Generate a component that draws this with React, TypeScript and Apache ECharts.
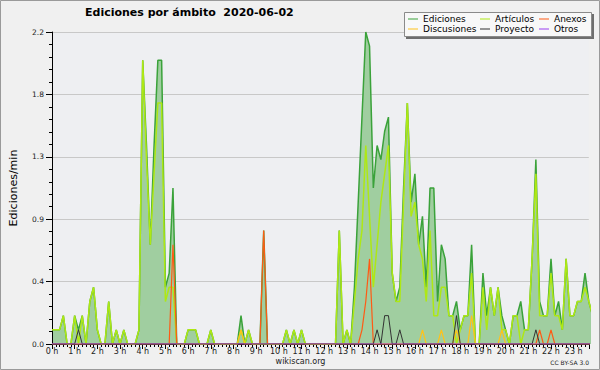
import React, { useEffect, useRef } from 'react';
import * as echarts from 'echarts';

// 10-minute slots over the day (values are edits per minute)
const SLOT_MINUTES = 10;

const hourLabels = [
  '0 h', '1 h', '2 h', '3 h', '4 h', '5 h', '6 h', '7 h', '8 h', '9 h', '10 h', '11 h',
  '12 h', '13 h', '14 h', '15 h', '16 h', '17 h', '18 h', '19 h', '20 h', '21 h', '22 h', '23 h',
];
const yTickLabels = ['0.0', '0.4', '0.9', '1.3', '1.8', '2.2'];

const ediciones = [
  0.1, 0.1, 0.1, 0.2, 0, 0, 0.2, 0.1, 0.2, 0, 0.3, 0.4,
  0.1, 0, 0, 0.3, 0, 0.1, 0, 0.1, 0, 0, 0, 0.1,
  2.0, 1.4, 0.7, 1.4, 2.0, 2.0, 0.4, 0.5, 1.1, 0, 0, 0,
  0.1, 0.1, 0.1, 0, 0, 0, 0.1, 0, 0, 0, 0, 0,
  0, 0, 0.2, 0, 0.1, 0, 0, 0, 0.8, 0, 0, 0,
  0, 0, 0.1, 0, 0.1, 0, 0.1, 0, 0, 0, 0, 0,
  0, 0, 0, 0, 0.8, 0, 0.1, 0, 0.4, 1.0, 1.6, 2.2,
  2.1, 1.1, 1.4, 1.3, 1.5, 1.6, 0.5, 0.3, 0.4, 1.1, 1.7, 1.0,
  1.2, 0.7, 0.9, 0.4, 1.1, 1.1, 0.3, 0.7, 0.6, 0.2, 0.2, 0.3,
  0.1, 0.2, 0.2, 0.7, 0, 0, 0.5, 0.2, 0.4, 0.2, 0.4, 0.2,
  0.1, 0, 0.2, 0.2, 0.3, 0.1, 0.1, 0.6, 1.3, 0.3, 0.2, 0.2,
  0.6, 0.2, 0.3, 0.1, 0.6, 0.2, 0.2, 0.3, 0.3, 0.5, 0.3, 0.2,
];

const articulos = [
  0.1, 0.1, 0.1, 0.2, 0, 0, 0.2, 0, 0.2, 0, 0.3, 0.4,
  0.1, 0, 0, 0.3, 0, 0.1, 0, 0.1, 0, 0, 0, 0.1,
  2.0, 1.3, 0.7, 1.2, 1.7, 1.7, 0.3, 0.4, 0.4, 0, 0, 0,
  0.1, 0.1, 0.1, 0, 0, 0, 0.1, 0, 0, 0, 0, 0,
  0, 0, 0.1, 0, 0.1, 0, 0, 0, 0, 0, 0, 0,
  0, 0, 0.1, 0, 0.1, 0, 0.1, 0, 0, 0, 0, 0,
  0, 0, 0, 0, 0.8, 0, 0.1, 0, 0.3, 0.6, 0.8, 1.4,
  0.9, 0.4, 0.7, 1.0, 1.2, 1.4, 0.5, 0.3, 0.3, 1.0, 1.7, 0.9,
  1.0, 0.7, 0.6, 0.3, 0.8, 0.2, 0.2, 0.4, 0.4, 0.2, 0.2, 0,
  0.1, 0.2, 0.2, 0.5, 0, 0, 0.4, 0.1, 0.4, 0.2, 0.4, 0.1,
  0.1, 0, 0.2, 0.2, 0, 0.1, 0.1, 0.6, 1.2, 0.2, 0.2, 0.2,
  0.5, 0.2, 0.2, 0.1, 0.6, 0.2, 0.2, 0.3, 0.3, 0.4, 0.3, 0.2,
];

const anexos = [
  0, 0, 0, 0, 0, 0, 0, 0, 0, 0, 0, 0,
  0, 0, 0, 0, 0, 0, 0, 0, 0, 0, 0, 0,
  0, 0, 0, 0, 0, 0, 0, 0, 0.7, 0, 0, 0,
  0, 0, 0, 0, 0, 0, 0, 0, 0, 0, 0, 0,
  0, 0, 0, 0, 0, 0, 0, 0, 0.8, 0, 0, 0,
  0, 0, 0, 0, 0, 0, 0, 0, 0, 0, 0, 0,
  0, 0, 0, 0, 0, 0, 0, 0, 0, 0, 0.1, 0.3,
  0.6, 0, 0, 0, 0, 0, 0, 0, 0, 0, 0, 0,
  0, 0, 0, 0, 0, 0, 0, 0, 0, 0, 0, 0,
  0, 0, 0, 0, 0, 0, 0, 0, 0, 0, 0, 0,
  0, 0, 0, 0, 0, 0, 0, 0, 0, 0.1, 0, 0,
  0.1, 0, 0, 0, 0, 0, 0, 0, 0, 0, 0, 0,
];

const discusiones = [
  0, 0, 0, 0, 0, 0, 0, 0, 0, 0, 0, 0,
  0, 0, 0, 0, 0, 0, 0, 0, 0, 0, 0, 0,
  0, 0, 0, 0, 0, 0, 0, 0, 0, 0, 0, 0,
  0, 0, 0, 0, 0, 0, 0, 0, 0, 0, 0, 0,
  0, 0, 0.1, 0, 0, 0, 0, 0, 0, 0, 0, 0,
  0, 0, 0, 0, 0, 0, 0, 0, 0, 0, 0, 0,
  0, 0, 0, 0, 0, 0, 0, 0, 0, 0, 0, 0,
  0, 0, 0, 0, 0, 0, 0, 0, 0, 0, 0, 0,
  0, 0, 0.1, 0, 0, 0, 0, 0.1, 0, 0, 0, 0.1,
  0, 0, 0, 0.2, 0, 0, 0, 0, 0, 0, 0, 0.1,
  0, 0, 0, 0, 0, 0, 0, 0, 0, 0, 0, 0,
  0, 0, 0, 0, 0, 0, 0, 0, 0, 0, 0, 0,
];

const proyecto = [
  0, 0, 0, 0, 0, 0, 0, 0.1, 0, 0, 0, 0,
  0, 0, 0, 0, 0, 0, 0, 0, 0, 0, 0, 0,
  0, 0, 0, 0, 0, 0, 0, 0, 0, 0, 0, 0,
  0, 0, 0, 0, 0, 0, 0, 0, 0, 0, 0, 0,
  0, 0, 0, 0, 0, 0, 0, 0, 0, 0, 0, 0,
  0, 0, 0, 0, 0, 0, 0, 0, 0, 0, 0, 0,
  0, 0, 0, 0, 0, 0, 0, 0, 0, 0, 0, 0,
  0, 0, 0.1, 0, 0.2, 0.2, 0, 0, 0.1, 0, 0, 0,
  0, 0, 0, 0, 0, 0, 0, 0, 0, 0, 0, 0.2,
  0, 0, 0, 0, 0, 0, 0, 0, 0, 0, 0, 0,
  0, 0, 0, 0, 0, 0, 0, 0, 0.1, 0, 0, 0,
  0, 0, 0, 0, 0, 0, 0, 0, 0, 0, 0, 0,
];

const otros = [
  0, 0, 0, 0, 0, 0, 0, 0, 0, 0, 0, 0,
  0, 0, 0, 0, 0, 0, 0, 0, 0, 0, 0, 0,
  0, 0, 0, 0, 0, 0, 0, 0, 0, 0, 0, 0,
  0, 0, 0, 0, 0, 0, 0, 0, 0, 0, 0, 0,
  0, 0, 0, 0, 0, 0, 0, 0, 0, 0, 0, 0,
  0, 0, 0, 0, 0, 0, 0, 0, 0, 0, 0, 0,
  0, 0, 0, 0, 0, 0, 0, 0, 0, 0, 0, 0,
  0, 0, 0, 0, 0, 0, 0, 0, 0, 0, 0, 0,
  0, 0, 0, 0, 0, 0, 0, 0, 0, 0, 0, 0,
  0, 0, 0, 0, 0, 0, 0, 0, 0, 0, 0, 0,
  0, 0, 0, 0, 0, 0, 0, 0, 0, 0, 0, 0,
  0, 0, 0, 0, 0, 0, 0, 0, 0, 0, 0, 0,
];

const FONT = 'DejaVu Sans';
const colors: Record<string, string> = {
  Ediciones: '#3aa23a',
  Artículos: '#aee814',
  Anexos: '#ff5a14',
  Discusiones: '#ffc21a',
  Proyecto: '#333333',
  Otros: '#9a3ff0',
};

const toPoints = (arr: number[]) => arr.map((v, i) => [i * SLOT_MINUTES, v]);

export default function App() {
  const ref = useRef<HTMLDivElement>(null);

  useEffect(() => {
    if (!ref.current) return;
    const chart = echarts.init(ref.current, null, { renderer: 'svg' });

    const lineSeries = (name: string, data: number[], width: number, extra: any = {}) => ({
      name,
      type: 'line',
      data: toPoints(data),
      showSymbol: false,
      symbol: 'none',
      color: colors[name],
      lineStyle: { width, color: colors[name] },
      emphasis: { disabled: true },
      silent: true,
      ...extra,
    });

    const legendBase = {
      orient: 'vertical',
      top: 14,
      itemWidth: 10,
      itemHeight: 1,
      itemGap: 0,
      icon: 'rect',
      padding: 0,
      selectedMode: false,
      z: 20,
      textStyle: { fontSize: 9, lineHeight: 10, color: '#000', fontFamily: FONT },
    };

    const option: any = {
      animation: false,
      backgroundColor: '#f0f0f0',
      textStyle: { fontFamily: FONT },
      title: {
        text: 'Ediciones por ámbito  2020-06-02',
        left: 85,
        top: 7,
        padding: 0,
        textStyle: { fontSize: 11, fontWeight: 'bold', color: '#000', fontFamily: FONT },
      },
      legend: [
        { ...legendBase, left: 408, data: ['Ediciones', 'Discusiones'] },
        { ...legendBase, left: 480, data: ['Artículos', 'Proyecto'] },
        { ...legendBase, left: 539, data: ['Anexos', 'Otros'] },
      ],
      grid: {
        left: 46.4,
        right: 11.2,
        top: 32,
        bottom: 26,
        show: true,
        backgroundColor: '#eeeff2',
        borderWidth: 0,
      },
      xAxis: {
        type: 'value',
        min: 0,
        max: 1420,
        interval: 60,
        z: 3,
        axisLine: { lineStyle: { color: '#000', width: 1 } },
        axisTick: { length: 5, lineStyle: { color: '#000' } },
        minorTick: { show: true, splitNumber: 6, length: 3, lineStyle: { color: '#000' } },
        axisLabel: {
          fontSize: 8,
          color: '#222',
          margin: 3,
          showMaxLabel: false,
          formatter: (v: number) => (v % 60 === 0 ? hourLabels[v / 60] ?? '' : ''),
        },
        splitLine: { show: false },
      },
      yAxis: [
        {
          type: 'value',
          min: 0,
          max: 2.2,
          interval: 0.44,
          z: 0,
          axisLine: { show: false },
          axisTick: { show: false },
          axisLabel: { show: false },
          splitLine: { show: true, lineStyle: { color: '#c8c8c8', width: 1 } },
        },
        {
          type: 'value',
          min: 0,
          max: 2.2,
          interval: 0.44,
          z: 3,
          position: 'left',
          name: 'Ediciones/min',
          nameLocation: 'middle',
          nameGap: 33,
          nameTextStyle: { fontSize: 11, color: '#000', fontFamily: FONT },
          axisLine: { show: true, lineStyle: { color: '#000', width: 1 } },
          axisTick: { show: true, length: 6, lineStyle: { color: '#000' } },
          minorTick: { show: true, splitNumber: 5, length: 3, lineStyle: { color: '#000' } },
          axisLabel: {
            fontSize: 7.5,
            color: '#222',
            margin: 8,
            formatter: (v: number) => yTickLabels[Math.round(v / 0.44)] ?? '',
          },
          splitLine: { show: false },
        },
      ],
      graphic: [
        {
          type: 'rect',
          silent: true,
          z: 10,
          shape: { x: 406, y: 14, width: 188, height: 25 },
          style: { fill: '#6e6e6e' },
        },
        {
          type: 'rect',
          silent: true,
          z: 11,
          shape: { x: 404.5, y: 12.5, width: 187, height: 24 },
          style: { fill: '#f8f8f8', stroke: '#8a8a8a', lineWidth: 1 },
        },
        {
          type: 'text',
          silent: true,
          z: 11,
          x: 300.5,
          y: 361,
          style: {
            text: 'wikiscan.org',
            fill: '#222',
            font: `8px "${FONT}"`,
            align: 'center',
            verticalAlign: 'middle',
          },
        },
        {
          type: 'text',
          silent: true,
          z: 11,
          x: 589,
          y: 362,
          style: {
            text: 'CC BY-SA 3.0',
            fill: '#222',
            font: `6px "${FONT}"`,
            align: 'right',
            verticalAlign: 'middle',
          },
        },
        {
          type: 'rect',
          silent: true,
          z: 30,
          shape: { x: 0.5, y: 0.5, width: 599, height: 369 },
          style: { fill: 'none', stroke: '#9a9a9a', lineWidth: 1 },
        },
      ],
      series: [
        lineSeries('Ediciones', ediciones, 1.5, {
          areaStyle: { color: '#a0cea0', opacity: 1 },
        }),
        lineSeries('Artículos', articulos, 1.5),
        lineSeries('Anexos', anexos, 1.2),
        lineSeries('Discusiones', discusiones, 1.2),
        lineSeries('Proyecto', proyecto, 1),
        lineSeries('Otros', otros, 1),
      ],
    };

    chart.setOption(option);
    return () => chart.dispose();
  }, []);

  return (
    <div
      ref={ref}
      style={{ position: 'absolute', left: 0, top: 0, width: 600, height: 370 }}
    />
  );
}
